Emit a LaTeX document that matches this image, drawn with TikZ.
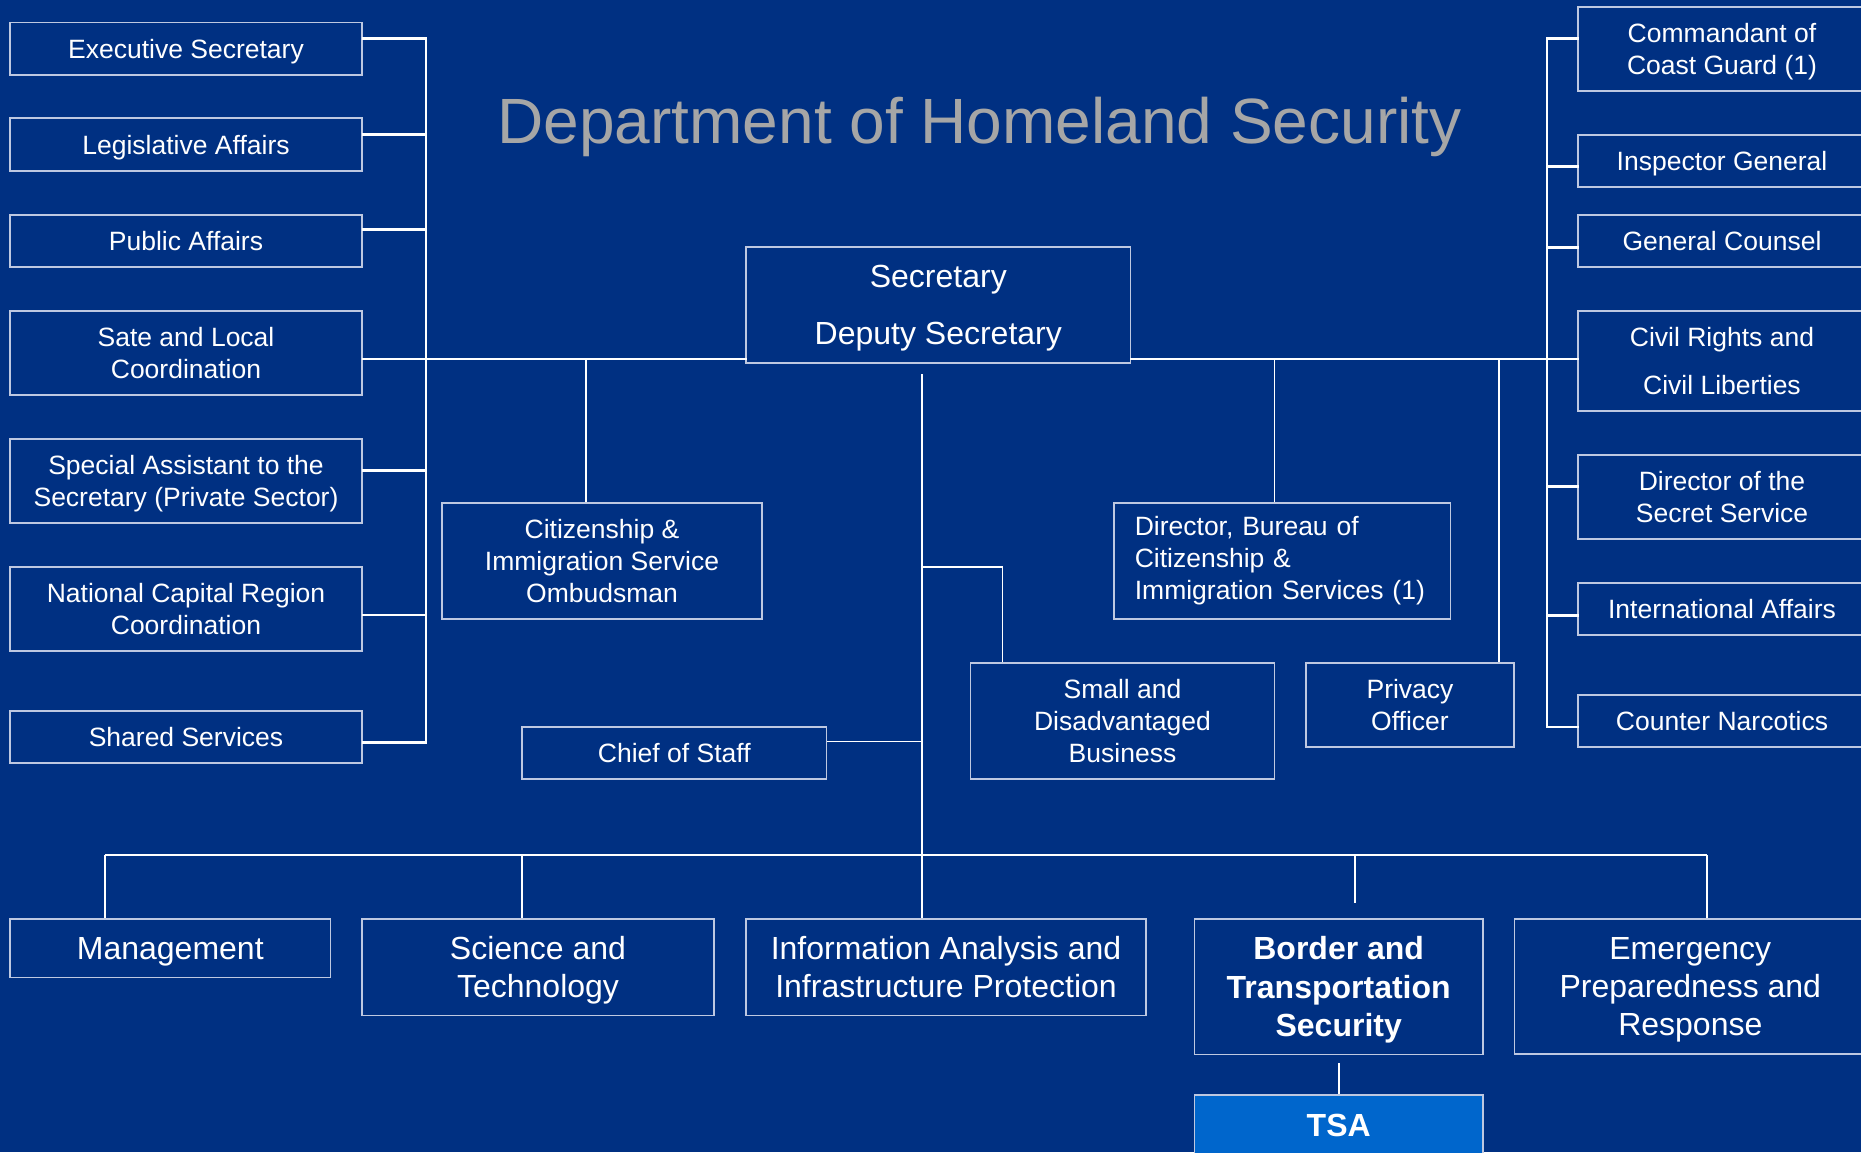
\documentclass[tikz,border=0pt]{standalone}
\usepackage{fontspec}
\setmainfont{Liberation Sans}
\usetikzlibrary{calc}
\usetikzlibrary{math}

\definecolor{dhsblue}{RGB}{0,48,130}
\definecolor{tsablue}{RGB}{0,102,204}
\definecolor{boxline}{RGB}{190,200,225}
\definecolor{titlegray}{RGB}{166,166,166}

\tikzset{
  unit/.style={draw=boxline, line width=1.6pt, inner sep=0pt, text=white,
    align=center, text depth=0pt, font=\fontsize{26.5}{31.8}\selectfont},
  bigunit/.style={unit, font=\fontsize{32}{38.4}\selectfont},
  bracket/.style={white, line width=2.6pt, line cap=rect},
  link/.style={white, line width=1.8pt},
}

\begin{document}
\begin{tikzpicture}[x=1pt,y=-1pt]

  \tikzmath{
    \lspine = 426;  % x of the left bracket
    \rspine = 1547; % x of the right bracket
    \mainy  = 359;  % y of the main line
    \busy   = 855;  % y of the bus above the directorates
    \trunkx = 922;  % x of the trunk below the secretary
  }

  \useasboundingbox (0,0) rectangle (1861,1152);
  \fill[dhsblue] (0,0) rectangle (1861,1152);
  \clip (0,0) rectangle (1861,1152);

  \node[text=titlegray, font=\fontsize{64}{76}\selectfont, anchor=base] (title)
    at (979.5,143.3) {Department of Homeland Security};

  % left column
  \node[unit, minimum width=352, minimum height=52.5] (exec)   at (186,48.75) {Executive Secretary};
  \node[unit, minimum width=352, minimum height=53]   (legis)  at (186,144.5) {Legislative Affairs};
  \node[unit, minimum width=352, minimum height=52]   (pub)    at (186,241)   {Public Affairs};
  \node[unit, minimum width=352, minimum height=84]   (sate)   at (186,353)   {Sate and Local\\Coordination};
  \node[unit, minimum width=352, minimum height=84.3] (spec)   at (186,480.9) {Special Assistant to the\\Secretary (Private Sector)};
  \node[unit, minimum width=352, minimum height=84.3] (ncr)    at (186,608.9) {National Capital Region\\Coordination};
  \node[unit, minimum width=352, minimum height=52.3] (shared) at (186,736.9) {Shared Services};

  % right column
  \node[unit, minimum width=288, minimum height=84]   (coast) at (1722,49)    {Commandant of\\Coast Guard (1)};
  \node[unit, minimum width=288, minimum height=52]   (ig)    at (1722,161)   {Inspector General};
  \node[unit, minimum width=288, minimum height=52]   (gc)    at (1722,241)   {General Counsel};
  \node[unit, minimum width=288, minimum height=100]  (civil) at (1722,361)   {Civil Rights and\\[16pt]Civil Liberties};
  \node[unit, minimum width=288, minimum height=84]   (ss)    at (1722,497)   {Director of the\\Secret Service};
  \node[unit, minimum width=288, minimum height=52.3] (intl)  at (1722,608.9) {International Affairs};
  \node[unit, minimum width=288, minimum height=52.3] (narc)  at (1722,720.9) {Counter Narcotics};

  % secretary and offices
  \node[unit, font=\fontsize{32}{57.5}\selectfont, minimum width=384.6, minimum height=116.3] (sec)
    at (938.3,304.9) {Secretary\\Deputy Secretary};
  \node[unit, minimum width=320, minimum height=116.3] (omb) at (602,560.9)
    {Citizenship \&\\Immigration Service\\Ombudsman};
  \node[unit, align=left, text width=295, text depth={}, minimum width=336.5, minimum height=116.3] (dir)
    at (1282.3,560.9) {Director, Bureau of\\Citizenship \&\\Immigration Services (1)};
  \node[unit, minimum width=304, minimum height=116.3] (small) at (1122.5,720.9)
    {Small and\\Disadvantaged\\Business};
  \node[unit, minimum width=208, minimum height=84.3] (priv) at (1410,704.9) {Privacy\\Officer};
  \node[unit, minimum width=304.6, minimum height=52.3] (chief) at (674.3,752.9) {Chief of Staff};

  % directorates
  \node[bigunit, minimum width=320.5, minimum height=58.6] (mgmt) at (170.3,948) {Management};
  \node[bigunit, minimum width=352, minimum height=96.6]   (sci)  at (538,967)   {Science and\\Technology};
  \node[bigunit, minimum width=400, minimum height=96.6]   (info) at (946,967)
    {Information Analysis and\\Infrastructure Protection};
  \node[bigunit, font=\fontsize{32}{38.4}\selectfont\bfseries, minimum width=288.6, minimum height=135.6] (bts)
    at (1338.7,986.5) {Border and\\Transportation\\Security};
  \node[bigunit, minimum width=351.4, minimum height=135.3] (epr) at (1690.3,986.4)
    {Emergency\\Preparedness and\\Response};
  \node[bigunit, fill=tsablue, font=\fontsize{32}{38.4}\selectfont\bfseries, minimum width=288.6, minimum height=60] (tsa)
    at (1338.7,1125) {TSA};

  \coordinate (lspine) at (\lspine,\mainy);
  \coordinate (rspine) at (\rspine,\mainy);
  \coordinate (trunk)  at (\trunkx,374);
  \coordinate (bus)    at (\trunkx,\busy);
  \coordinate (knee)   at (1002.5,567);

  % left bracket
  \foreach \n/\f in {exec/0.31, legis/0.32, pub/0.29, spec/0.38, ncr/0.57, shared/0.6}
    \draw[bracket] ($(\n.north east)!\f!(\n.south east)$) coordinate (\n-hook) -- (\n-hook -| lspine);
  \draw[bracket] (exec-hook -| lspine) -- (shared-hook -| lspine);

  % right bracket
  \foreach \n/\f in {coast/0.38, ig/0.6, gc/0.62, ss/0.38, intl/0.62, narc/0.61}
    \draw[bracket] ($(\n.north west)!\f!(\n.south west)$) coordinate (\n-hook) -- (\n-hook -| rspine);
  \draw[bracket] (coast-hook -| rspine) -- (narc-hook -| rspine);

  % main line
  \draw[bracket] (sate.east |- lspine) -- (sec.west |- lspine);
  \draw[bracket] (sec.east |- rspine) -- (civil.west |- rspine);

  % drops from the main line
  \foreach \n/\f in {omb/0.45, dir/0.477, priv/0.925}
    \draw[link] ($(\n.north west)!\f!(\n.north east)$) coordinate (\n-top) -- (\n-top |- lspine);

  % trunk
  \draw[link] (trunk) -- (trunk |- info.north);
  \draw[link] (trunk |- knee) -| (knee |- small.north);
  \draw[link] ($(chief.north east)!0.29!(chief.south east)$) coordinate (chief-hook) -- (chief-hook -| trunk);

  % bus
  \foreach \n/\f in {mgmt/0.298, sci/0.455, epr/0.548}
    \draw[link] ($(\n.north west)!\f!(\n.north east)$) coordinate (\n-top) -- (\n-top |- bus);
  \draw[link] (mgmt-top |- bus) -- (epr-top |- bus);
  \draw[link, shorten <=15.4] ($(bts.north west)!0.555!(bts.north east)$) coordinate (bts-top) -- (bts-top |- bus);
  \draw[link, shorten <=8] (bts.south) -- (tsa.north);

\end{tikzpicture}
\end{document}
